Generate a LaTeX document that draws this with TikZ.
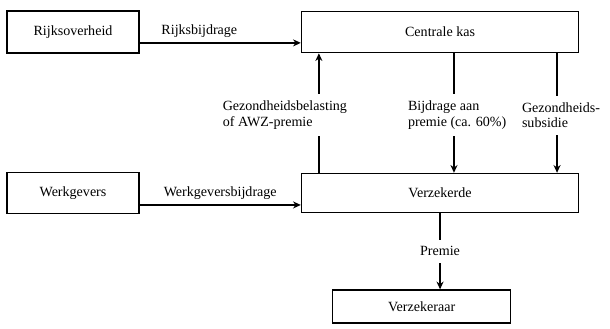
\documentclass[tikz,border=0pt]{standalone}
\usepackage{fontspec}
\setmainfont{Liberation Serif}
\usepackage{tikz}
\usetikzlibrary{arrows.meta, positioning, calc}
\tikzset{
  box/.style={rectangle, draw=black, fill=white,
    minimum width=3.3cm, minimum height=1.05cm, line width=1.1pt},
  widebox/.style={box, minimum width=6.925cm},
  arrow/.style={-{Stealth[length=5.5pt, width=5pt]}, line width=1.1pt},
  cutlabel/.style={fill=white, align=left, inner xsep=1pt, inner ysep=5pt,
    font=\fontsize{10pt}{10.8pt}\selectfont}
}

\begin{document}
\begin{tikzpicture}[node distance=2.95cm and 4.025cm, font=\fontsize{10pt}{12pt}\selectfont]
  \useasboundingbox (-1.825,0.8) rectangle (13.425,-7.4);

  \node[box] (rijk) {Rijksoverheid};
  \node[widebox, right=4.025cm of rijk, minimum height=1.025cm] (kas) {Centrale kas};
  \node[box, below=2.95cm of rijk, minimum height=1.025cm] (werk) {Werkgevers};
  \node[widebox, right=4.025cm of werk, minimum height=0.975cm] (verz) {Verzekerde};
  \node[box, below=1.9cm of verz, xshift=-0.46cm, minimum width=4.45cm, minimum height=0.825cm] (verk) {Verzekeraar};

  % horizontal flows
  \coordinate (rb) at ($(rijk.south east)!0.25!(rijk.north east)$);
  \draw[arrow] (rb) -- node[above, pos=0.37] {Rijksbijdrage} (rb -| kas.west);
  \coordinate (wb) at ($(werk.south east)!0.22!(werk.north east)$);
  \draw[arrow] (wb) -- node[above] {Werkgeversbijdrage} (wb -| verz.west);

  % between kas and verzekerde
  \coordinate (g1) at ($(verz.north west)!0.065!(verz.north east)$);
  \draw[arrow] (g1) -- node[cutlabel, pos=0.483, xshift=-0.85cm] {Gezondheidsbelasting\\of AWZ-premie} (g1 |- kas.south);
  \coordinate (g2) at ($(kas.south west)!0.55!(kas.south east)$);
  \draw[arrow] (g2) -- node[cutlabel, pos=0.517, xshift=0.08cm] {Bijdrage aan\\premie (ca. 60\%)} (g2 |- verz.north);
  \coordinate (g3) at ($(kas.south west)!0.92!(kas.south east)$);
  \draw[arrow] (g3) -- node[cutlabel, pos=0.52, xshift=0.1cm] {Gezondheids-\\subsidie} (g3 |- verz.north);

  \draw[arrow] (verz.south) -- node[cutlabel] {Premie} (verz.south |- verk.north);
\end{tikzpicture}
\end{document}
